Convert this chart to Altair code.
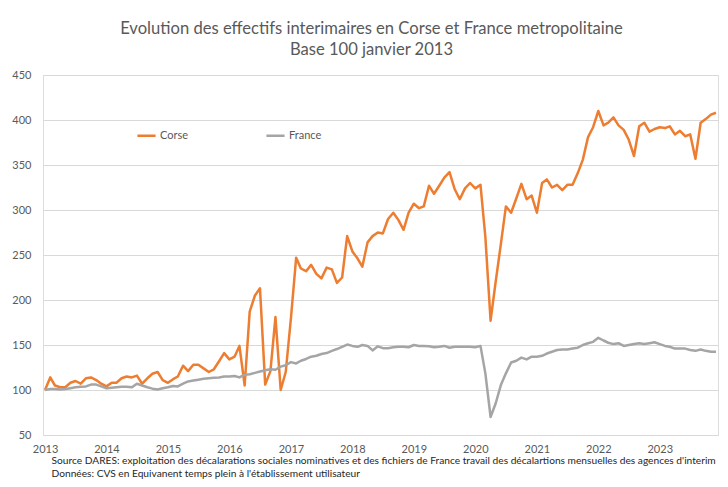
import altair as alt
import pandas as pd

corse = [100, 114, 105, 103, 103, 108, 110, 107, 113, 114, 111, 107,
         104, 108, 108, 113, 115, 114, 116, 107, 113, 118, 120, 111,
         108, 112, 115, 127, 121, 128, 128, 124, 120, 123, 132, 141,
         134, 137, 149, 105, 187, 205, 213, 106, 121, 181, 100, 120,
         180, 247, 235, 232, 239, 229, 224, 236, 234, 219, 225, 271,
         254, 246, 237, 264, 271, 275, 274, 290, 297, 289, 278, 297,
         307, 302, 304, 327, 318, 327, 336, 342, 323, 312, 324, 330,
         324, 328, 270, 177, 220, 262, 304, 297, 313, 329, 312, 316,
         297, 330, 334, 325, 328, 322, 328, 328, 341, 356, 381, 392,
         410, 394, 397, 403, 394, 389, 378, 360, 393, 397, 387, 390,
         392, 391, 393, 384, 388, 382, 384, 357, 397, 401, 406, 408]

france = [100, 101, 101, 100.5, 101, 102, 103, 103.5, 104, 106, 106, 104,
          102, 102.5, 103, 103.5, 103.5, 103, 107, 105, 103, 101.5, 100.5, 102,
          103, 104.5, 104, 107, 109.5, 110.5, 111.5, 112.5, 113, 113.5, 114, 115,
          115, 115.5, 114, 117, 117.5, 119, 120.5, 122, 123, 122.5, 126, 127.5,
          131, 129.5, 132.5, 134.5, 137, 138, 140, 141, 143.5, 145.5, 148, 150.5,
          149, 148, 150, 149, 144, 148.5, 146.5, 146.5, 147.5, 148, 148, 147.5,
          150, 149, 149, 148.5, 147.5, 148, 149, 147, 148, 148, 148, 148,
          147.5, 149, 118.5, 70, 85, 105.5, 118.5, 130.5, 132.5, 136, 134, 137,
          137, 138, 140.5, 142.5, 144.5, 145, 145, 146, 147, 150, 152, 153.5,
          158, 155, 152.5, 151, 152, 149, 150, 151, 152, 151, 152, 153,
          151, 149, 148, 146, 146, 146, 144.5, 143.5, 145, 143.5, 142.5, 142.5]

series_names = ["Corse", "France"]
colors = ["#ED7D31", "#A5A5A5"]
y_ticks = [50, 100, 150, 200, 250, 300, 350, 400, 450]

title_lines = ["Evolution des effectifs interimaires en Corse et France metropolitaine",
               "Base 100 janvier 2013"]
footer_lines = ["Source DARES: exploitation des décalarations sociales nominatives et des fichiers de France travail des décalartions mensuelles des agences d'interim",
                "Données:  CVS en Equivanent temps plein à l'établissement utilisateur"]

months = pd.date_range("2013-01-01", periods=len(corse), freq="MS")
df = pd.concat([
    pd.DataFrame({"date": months, "value": corse, "serie": "Corse"}),
    pd.DataFrame({"date": months, "value": france, "serie": "France"}),
])

FONT = "Lato"
GREY = "#595959"

chart = alt.Chart(df).mark_line(strokeWidth=2.5, strokeJoin="round").encode(
    x=alt.X("date:T",
            scale=alt.Scale(domain=["2012-12-20", "2023-12-13"]),
            axis=alt.Axis(format="%Y", tickCount={"interval": "year", "step": 1},
                          grid=False, domain=False, ticks=False,
                          labelColor=GREY, labelFont=FONT, labelFontSize=11,
                          labelPadding=8, labelAlign="center",
                          title=footer_lines, titleFont=FONT, titleFontSize=10.2,
                          titleFontWeight="normal", titleColor="#262626",
                          titleAlign="left", titleAnchor="start", titleAngle=0,
                          titleBaseline="middle", titleX=8, titleY=25,
                          titleLineHeight=13)),
    y=alt.Y("value:Q",
            scale=alt.Scale(domain=[50, 450], nice=False, zero=False),
            axis=alt.Axis(values=y_ticks, title=None, domain=False, ticks=False,
                          gridColor="#D9D9D9", gridWidth=1,
                          labelColor=GREY, labelFont=FONT, labelFontSize=11,
                          labelPadding=12)),
    color=alt.Color("serie:N",
                    scale=alt.Scale(domain=series_names, range=colors),
                    legend=alt.Legend(title=None, orient="none", direction="horizontal",
                                      legendX=93, legendY=50,
                                      symbolType="stroke", symbolSize=330,
                                      symbolStrokeWidth=2.5, columnPadding=72,
                                      labelFont=FONT, labelFontSize=11,
                                      labelColor=GREY, labelOffset=3)),
).properties(
    width=675,
    height=360,
    title=alt.TitleParams(text=title_lines, font=FONT, fontSize=16.6,
                          fontWeight="normal", color=GREY, anchor="middle",
                          lineHeight=21, offset=10, dx=-9),
    autosize=alt.AutoSizeParams(type="none"),
    padding={"left": 35, "top": 67, "right": 2, "bottom": 44},
).configure_view(stroke=None).configure(background="white")

chart.save("out.html", embed_options={"renderer": "svg", "actions": False})
